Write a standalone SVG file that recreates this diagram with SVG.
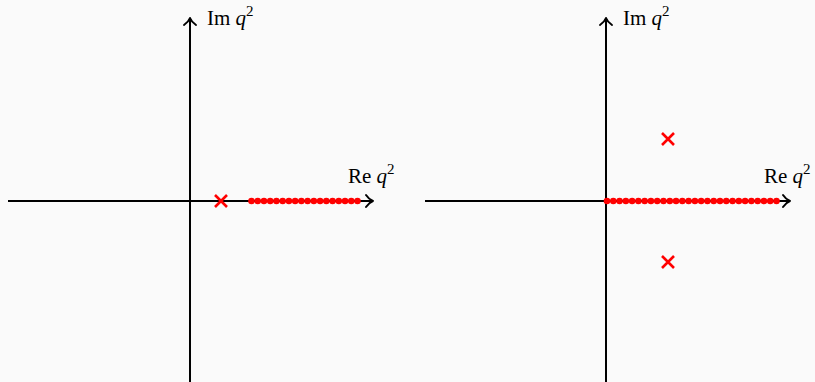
<svg xmlns="http://www.w3.org/2000/svg" width="815" height="382" viewBox="0 0 815 382">
<defs>
<style>
.ax{stroke:#000;stroke-width:2;fill:none}
.ah{stroke:#000;stroke-width:2;fill:none;stroke-linecap:round;stroke-linejoin:round}
.x{stroke:#ff0000;stroke-width:2.6;fill:none}
.dot{fill:#ff0000}
.lb{font-family:"Liberation Serif","DejaVu Serif",serif;font-size:21px;fill:#000}
.it{font-style:italic}
.sp{font-size:15px}
</style>
<circle id="d" r="3.3" class="dot"/>
</defs>
<rect width="815" height="382" fill="#fafafa"/>
<g id="connectors">
<line class="ax" x1="8" y1="201" x2="372" y2="201"/>
<line class="ax" x1="190" y1="382" x2="190" y2="19"/>
<path class="ah" d="M366,195 Q369,199.5 373,201 Q369,202.5 366,207"/>
<path class="ah" d="M184,25 Q188.5,22 190,18 Q191.5,22 196,25"/>
<line class="ax" x1="425" y1="201" x2="789" y2="201"/>
<line class="ax" x1="606" y1="382" x2="606" y2="19"/>
<path class="ah" d="M783,195 Q786,199.5 790,201 Q786,202.5 783,207"/>
<path class="ah" d="M600,25 Q604.5,22 606,18 Q607.5,22 612,25"/>
</g>
<g id="left-cut">
<use href="#d" x="251.5" y="201"/><use href="#d" x="257.74" y="201"/><use href="#d" x="263.97" y="201"/><use href="#d" x="270.21" y="201"/><use href="#d" x="276.44" y="201"/><use href="#d" x="282.68" y="201"/><use href="#d" x="288.91" y="201"/><use href="#d" x="295.15" y="201"/><use href="#d" x="301.38" y="201"/><use href="#d" x="307.62" y="201"/><use href="#d" x="313.85" y="201"/><use href="#d" x="320.09" y="201"/><use href="#d" x="326.32" y="201"/><use href="#d" x="332.56" y="201"/><use href="#d" x="338.79" y="201"/><use href="#d" x="345.03" y="201"/><use href="#d" x="351.26" y="201"/><use href="#d" x="357.5" y="201"/>
</g>
<g id="left-pole">
<path class="x" d="M215,195 L227,207 M227,195 L215,207"/>
</g>
<g id="right-cut">
<use href="#d" x="607" y="201"/><use href="#d" x="613.28" y="201"/><use href="#d" x="619.56" y="201"/><use href="#d" x="625.83" y="201"/><use href="#d" x="632.11" y="201"/><use href="#d" x="638.39" y="201"/><use href="#d" x="644.67" y="201"/><use href="#d" x="650.94" y="201"/><use href="#d" x="657.22" y="201"/><use href="#d" x="663.5" y="201"/><use href="#d" x="669.78" y="201"/><use href="#d" x="676.06" y="201"/><use href="#d" x="682.33" y="201"/><use href="#d" x="688.61" y="201"/><use href="#d" x="694.89" y="201"/><use href="#d" x="701.17" y="201"/><use href="#d" x="707.44" y="201"/><use href="#d" x="713.72" y="201"/><use href="#d" x="720" y="201"/><use href="#d" x="726.28" y="201"/><use href="#d" x="732.56" y="201"/><use href="#d" x="738.83" y="201"/><use href="#d" x="745.11" y="201"/><use href="#d" x="751.39" y="201"/><use href="#d" x="757.67" y="201"/><use href="#d" x="763.94" y="201"/><use href="#d" x="770.22" y="201"/><use href="#d" x="776.5" y="201"/>
</g>
<g id="right-poles">
<path class="x" d="M662,133 L674,145 M674,133 L662,145"/>
<path class="x" d="M662,256 L674,268 M674,256 L662,268"/>
</g>
<g id="labels">
<text class="lb" x="207" y="25">Im <tspan class="it">q</tspan><tspan class="sp" dy="-9">2</tspan></text>
<text class="lb" x="348" y="183">Re <tspan class="it">q</tspan><tspan class="sp" dy="-9">2</tspan></text>
<text class="lb" x="623" y="25">Im <tspan class="it">q</tspan><tspan class="sp" dy="-9">2</tspan></text>
<text class="lb" x="764" y="183">Re <tspan class="it">q</tspan><tspan class="sp" dy="-9">2</tspan></text>
</g>
</svg>
